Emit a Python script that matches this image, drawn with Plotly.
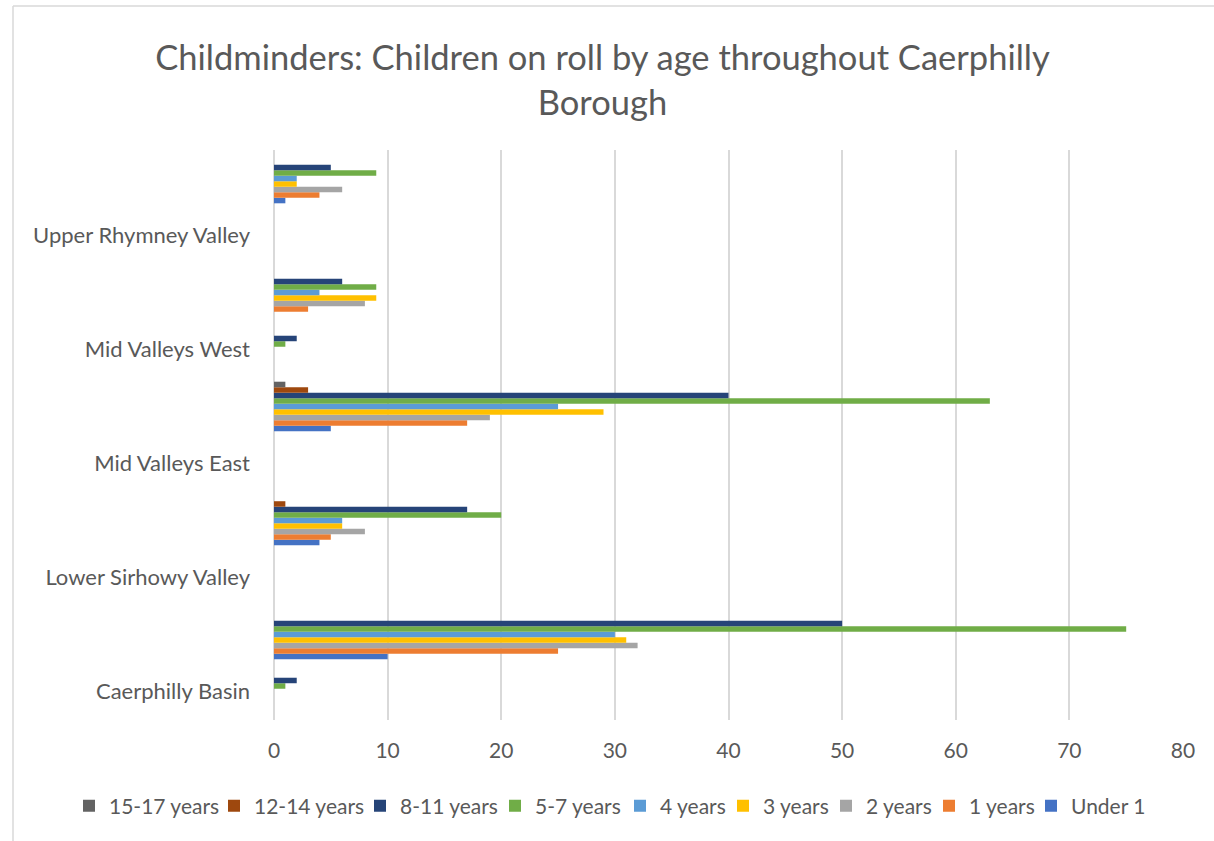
import plotly.graph_objects as go

# Category rows, bottom to top (Excel shows a label on every other row)
row_labels = ["Caerphilly Basin", "", "Lower Sirhowy Valley", "", "Mid Valleys East",
              "", "Mid Valleys West", "", "Upper Rhymney Valley", ""]
row_pos = list(range(len(row_labels)))

series_names = ["Under 1", "1 years", "2 years", "3 years", "4 years",
                "5-7 years", "8-11 years", "12-14 years", "15-17 years"]
series_colors = ["#4472C4", "#ED7D31", "#A5A5A5", "#FFC000", "#5B9BD5",
                 "#70AD47", "#264478", "#9E480E", "#636363"]

under_1 = [0, 10, 0, 4, 0, 5, 0, 0, 0, 1]
years_1 = [0, 25, 0, 5, 0, 17, 0, 3, 0, 4]
years_2 = [0, 32, 0, 8, 0, 19, 0, 8, 0, 6]
years_3 = [0, 31, 0, 6, 0, 29, 0, 9, 0, 2]
years_4 = [0, 30, 0, 6, 0, 25, 0, 4, 0, 2]
years_5_7 = [1, 75, 0, 20, 0, 63, 1, 9, 0, 9]
years_8_11 = [2, 50, 0, 17, 0, 40, 2, 6, 0, 5]
years_12_14 = [0, 0, 0, 1, 0, 3, 0, 0, 0, 0]
years_15_17 = [0, 0, 0, 0, 0, 1, 0, 0, 0, 0]

series_values = [under_1, years_1, years_2, years_3, years_4,
                 years_5_7, years_8_11, years_12_14, years_15_17]

x_ticks = [0, 10, 20, 30, 40, 50, 60, 70, 80]

# legend text start (px) for each series, in series order
legend_text_x = [1071, 969, 866, 763, 660, 535, 400, 254, 109]

FONT = "Lato, Calibri, 'Open Sans', sans-serif"
TXT = "#595959"

W, H = 1214, 841
L, R, T, B = 274, 1183, 150, 720
pw, ph = R - L, B - T

fig = go.Figure()
legends = {}
for i, (name, color, vals) in enumerate(zip(series_names, series_colors, series_values)):
    key = "legend" if i == 0 else f"legend{i + 1}"
    fig.add_trace(go.Bar(
        y=row_pos, x=vals, name=name, orientation="h",
        marker=dict(color=color, line=dict(width=0)),
        legend=key,
    ))
    legends[key] = dict(
        orientation="h",
        x=(legend_text_x[i] - 40 - L) / pw, xanchor="left",
        y=(B - 806) / ph, yanchor="middle",
        font=dict(size=21, color=TXT, family=FONT),
        bgcolor="rgba(0,0,0,0)", borderwidth=0,
    )

fig.update_layout(
    width=W, height=H,
    margin=dict(l=L, r=W - R, t=T, b=H - B, pad=0, autoexpand=False),
    paper_bgcolor="white", plot_bgcolor="white",
    barmode="group", bargap=0.13, bargroupgap=0,
    font=dict(family=FONT, color=TXT, size=22),
    title=dict(
        text="Childminders: Children on roll by age throughout Caerphilly<br>Borough",
        x=602.5 / W, xanchor="center", y=1 - 70 / H, yanchor="middle",
        font=dict(family=FONT, size=34.5, color=TXT),
    ),
    xaxis=dict(
        range=[0, 80], tickvals=x_ticks, showgrid=True, gridcolor="#D9D9D9",
        gridwidth=1.5, zeroline=True, zerolinecolor="#D9D9D9", zerolinewidth=1.5,
        showline=False, ticks="", ticklabelstandoff=16,
        tickfont=dict(size=21, color=TXT, family=FONT),
    ),
    yaxis=dict(
        range=[-0.5, 9.5], tickvals=row_pos, ticktext=row_labels,
        showgrid=False, zeroline=False, showline=False, ticks="",
        ticklabelstandoff=23,
        tickfont=dict(size=22, color=TXT, family=FONT),
    ),
    showlegend=True,
    **legends,
)

# Chart-area border (visible on top and left edges)
fig.add_shape(type="line", xref="paper", yref="paper",
              x0=(13 - L) / pw, x1=(W + 5 - L) / pw,
              y0=(B - 6) / ph, y1=(B - 6) / ph,
              line=dict(color="#D9D9D9", width=1.5))
fig.add_shape(type="line", xref="paper", yref="paper",
              x0=(13 - L) / pw, x1=(13 - L) / pw,
              y0=(B - 6) / ph, y1=(B - H - 5) / ph,
              line=dict(color="#D9D9D9", width=1.5))

fig.write_html("out.html", config={"displayModeBar": False},
               post_script="document.body.style.margin='0';")
